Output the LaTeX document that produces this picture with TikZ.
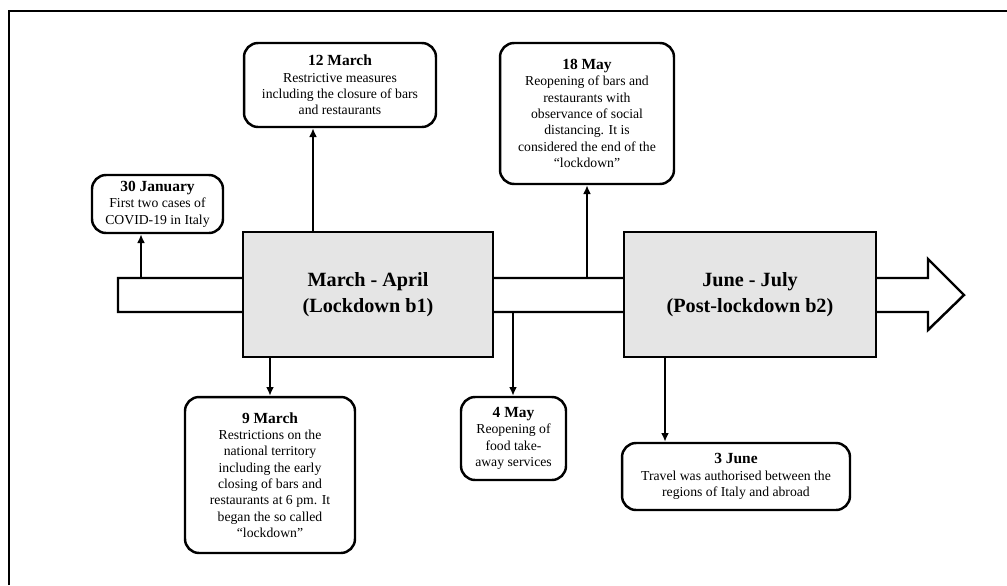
\documentclass[tikz,border=0pt]{standalone}
\usepackage{fontspec}
\setmainfont{Liberation Serif}
\usetikzlibrary{arrows.meta}
\tikzset{
    event/.style={draw, line width=1.4pt, rounded corners=8pt, fill=white,
        align=center, inner sep=2pt, font=\fontsize{7.8}{9.3}\selectfont},
    period/.style={draw, line width=1.4pt, fill=gray!20, align=center,
        font=\fontsize{11.5}{14.8}\selectfont\bfseries},
    link/.style={line width=1.1pt, -{Latex[length=5pt,width=4.5pt]}}
}
\newcommand{\evdate}[1]{{\fontsize{8.8}{10}\selectfont\bfseries #1}}
\begin{document}
\begin{tikzpicture}[x=0.02cm,y=-0.02cm]
    \useasboundingbox (0,0) rectangle (1007,585);
    \draw[line width=1.6pt] (9,585) -- (9,11) -- (1007,11);
    % timeline band
    \draw[line width=1.4pt] (118,278) -- (928,278) -- (928,259) -- (964,295)
        -- (928,330) -- (928,312) -- (118,312) -- cycle;
    \node[period, minimum width=5cm, minimum height=2.5cm] (b1) at (368,294.5)
        {March - April\\(Lockdown b1)};
    \node[period, minimum width=5.04cm, minimum height=2.5cm] (b2) at (750,294.5)
        {June - July\\(Post-lockdown b2)};
    % events
    \node[event, minimum width=2.62cm, minimum height=1.16cm] (jan30) at (157.5,204)
        {\evdate{30 January}\\First two cases of\\COVID-19 in Italy};
    \node[event, minimum width=3.84cm, minimum height=1.68cm] (mar12) at (340,85)
        {\evdate{12 March}\\Restrictive measures\\including the closure of bars\\and restaurants};
    \node[event, minimum width=3.48cm, minimum height=2.82cm] (may18) at (587,113.5)
        {\evdate{18 May}\\Reopening of bars and\\restaurants with\\observance of social\\distancing. It is\\considered the end of the\\“lockdown”};
    \node[event, minimum width=3.4cm, minimum height=3.12cm] (mar9) at (270,475)
        {\evdate{9 March}\\Restrictions on the\\national territory\\including the early\\closing of bars and\\restaurants at 6 pm. It\\began the so called\\“lockdown”};
    \node[event, minimum width=2.1cm, minimum height=1.66cm] (may4) at (513.5,438.5)
        {\evdate{4 May}\\Reopening of\\food take-\\away services};
    \node[event, minimum width=4.56cm, minimum height=1.34cm] (jun3) at (736,476.5)
        {\evdate{3 June}\\Travel was authorised between the\\regions of Italy and abroad};
    % connectors
    \coordinate (t1) at (141,278);
    \coordinate (t2) at (313,232);
    \coordinate (t3) at (587,278);
    \coordinate (t4) at (270,357);
    \coordinate (t5) at (513,312);
    \coordinate (t6) at (665,357);
    \draw[link] (t1) -- (jan30.south -| t1);
    \draw[link] (t2) -- (mar12.south -| t2);
    \draw[link] (t3) -- (may18.south -| t3);
    \draw[link] (t4) -- (mar9.north -| t4);
    \draw[link] (t5) -- (may4.north -| t5);
    \draw[link] (t6) -- (jun3.north -| t6);
\end{tikzpicture}
\end{document}
